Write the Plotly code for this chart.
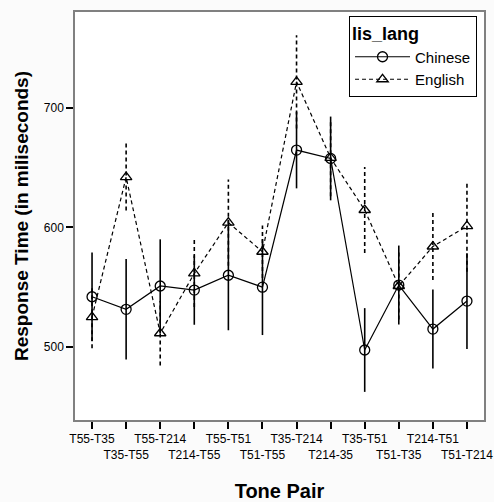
import plotly.graph_objects as go

categories = ["T55-T35", "T35-T55", "T55-T214", "T214-T55", "T55-T51", "T51-T55",
              "T35-T214", "T214-35", "T35-T51", "T51-T35", "T214-T51", "T51-T214"]
chinese_mean = [542, 531.5, 551, 547.6, 560, 550, 664.6, 657.6, 497.5, 551.8, 515, 538.4]
chinese_err = [37, 42, 39, 29, 46, 40, 32, 35, 35, 33, 33, 40]
english_mean = [525, 642, 511.5, 561.5, 604, 579.6, 721.6, 658, 614.5, 551, 584, 601]
english_err = [26, 28, 27, 28, 36, 22, 39, 32, 36, 28, 28, 38]
y_ticks = [500, 600, 700]

xi = list(range(len(categories)))
ticktext = [c if i % 2 == 0 else "<br>" + c for i, c in enumerate(categories)]


def err_segments(means, errs):
    xs, ys = [], []
    for i, (m, e) in enumerate(zip(means, errs)):
        xs += [i, i, None]
        ys += [m - e, m + e, None]
    return xs, ys


fig = go.Figure()

cx, cy = err_segments(chinese_mean, chinese_err)
ex, ey = err_segments(english_mean, english_err)

fig.add_trace(go.Scatter(x=ex, y=ey, mode="lines", showlegend=False, hoverinfo="skip",
                         line=dict(color="black", width=1.6, dash="4px,3px")))
fig.add_trace(go.Scatter(x=cx, y=cy, mode="lines", showlegend=False, hoverinfo="skip",
                         line=dict(color="black", width=1.6)))

fig.add_trace(go.Scatter(x=xi, y=chinese_mean, mode="lines+markers", name="Chinese",
                         line=dict(color="black", width=1.2),
                         marker=dict(symbol="circle-open", size=10, color="black",
                                     line=dict(width=1.3))))
fig.add_trace(go.Scatter(x=xi, y=english_mean, mode="lines+markers", name="English",
                         line=dict(color="black", width=1.2, dash="4px,3px"),
                         marker=dict(symbol="triangle-up-open", size=10, color="black",
                                     line=dict(width=1.3))))

font = "Arial, Liberation Sans, sans-serif"

fig.update_layout(
    width=494, height=502,
    margin=dict(l=75, r=10, t=12, b=82),
    paper_bgcolor="#fbfbfb",
    plot_bgcolor="#ffffff",
    font=dict(family=font, color="black", size=12),
    legend=dict(
        title=dict(text="<b>lis_lang</b>", font=dict(size=18)),
        x=0.67, y=0.99, xanchor="left", yanchor="top",
        bgcolor="white", bordercolor="black", borderwidth=1,
        font=dict(size=15), tracegroupgap=0, itemwidth=55,
    ),
    xaxis=dict(
        range=[-0.5, 11.5], tickmode="array", tickvals=xi, ticktext=ticktext,
        tickangle=0, automargin=False,
        ticks="outside", ticklen=7, tickwidth=2, tickcolor="black",
        showgrid=False, zeroline=False,
        showline=True, linecolor="#808080", linewidth=1.5, mirror=True,
        tickfont=dict(size=12),
        title=dict(text="<b>Tone Pair</b>", font=dict(size=20), standoff=25),
    ),
    yaxis=dict(
        range=[439, 780], tickmode="array", tickvals=y_ticks,
        ticks="outside", ticklen=7, tickwidth=2, tickcolor="black",
        showgrid=False, zeroline=False, automargin=False,
        showline=True, linecolor="#808080", linewidth=1.5, mirror=True,
        tickfont=dict(size=12),
        title=dict(text="<b>Response Time (in miliseconds)</b>", font=dict(size=19), standoff=10),
    ),
)

fig.write_html("out.html", config={"displayModeBar": False},
               post_script="document.body.style.margin='0px';document.body.style.overflow='hidden';")
